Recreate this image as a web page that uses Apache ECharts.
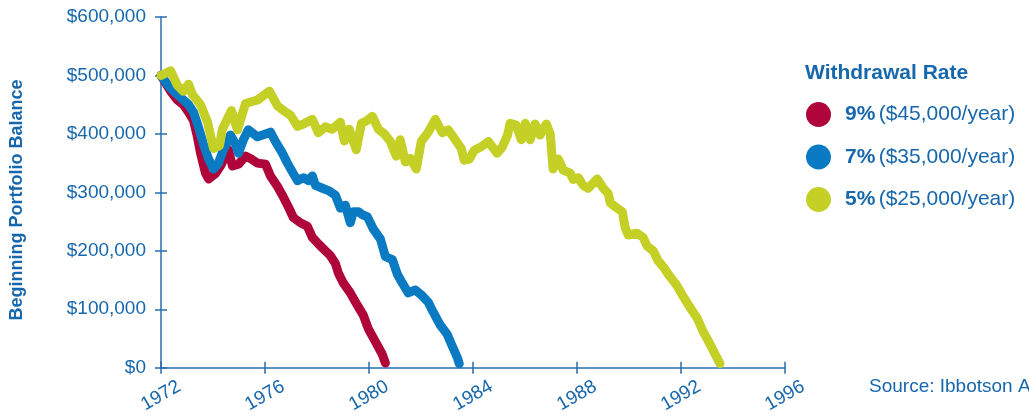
<!DOCTYPE html>
<html>
<head>
<meta charset="utf-8">
<script src="https://cdn.jsdelivr.net/npm/echarts@6/dist/echarts.min.js"></script>
<style>
  html, body { margin: 0; padding: 0; background: #ffffff; }
  #chart { width: 1029px; height: 416px; }
</style>
</head>
<body>
<div id="chart"></div>
<script>
// Withdrawal rates shown in the legend
const rateLabels = ['9%', '7%', '5%'];
const rateAmounts = ['($45,000/year)', '($35,000/year)', '($25,000/year)'];

// Portfolio balance paths: [year, beginning balance in dollars]
const balance9 = [
  [1972.00, 500000], [1972.37, 473000], [1972.63, 458000], [1972.86, 450000], [1973.06, 437000],
  [1973.25, 423000], [1973.40, 395000], [1973.52, 367000], [1973.71, 333000], [1973.83, 323000],
  [1974.09, 332000], [1974.29, 345000], [1974.59, 373000], [1974.75, 345000], [1974.98, 348000],
  [1975.25, 362000], [1975.44, 358000], [1975.71, 350000], [1976.02, 348000], [1976.21, 328000],
  [1976.48, 310000], [1976.67, 295000], [1976.90, 275000], [1977.09, 257000], [1977.36, 248000],
  [1977.63, 242000], [1977.82, 223000], [1978.05, 212000], [1978.32, 200000], [1978.51, 192000],
  [1978.71, 178000], [1978.82, 162000], [1979.01, 145000], [1979.28, 128000], [1979.55, 107000],
  [1979.78, 90000], [1979.97, 67000], [1980.24, 45000], [1980.51, 23000], [1980.63, 8000]
];

const balance7 = [
  [1972.00, 500000], [1972.37, 478000], [1972.63, 467000], [1972.86, 458000], [1973.06, 450000],
  [1973.25, 437000], [1973.44, 412000], [1973.63, 383000], [1973.83, 357000], [1974.02, 340000],
  [1974.21, 350000], [1974.40, 373000], [1974.67, 398000], [1974.86, 383000], [1974.98, 367000],
  [1975.17, 390000], [1975.36, 407000], [1975.71, 395000], [1976.02, 400000], [1976.21, 403000],
  [1976.40, 387000], [1976.67, 367000], [1976.86, 350000], [1977.09, 332000], [1977.25, 320000],
  [1977.48, 325000], [1977.67, 320000], [1977.82, 328000], [1977.94, 312000], [1978.21, 307000],
  [1978.44, 303000], [1978.71, 295000], [1978.90, 273000], [1979.09, 278000], [1979.28, 248000],
  [1979.40, 267000], [1979.59, 267000], [1979.74, 262000], [1979.94, 258000], [1980.17, 237000],
  [1980.44, 220000], [1980.63, 190000], [1980.90, 185000], [1981.09, 160000], [1981.28, 145000],
  [1981.51, 128000], [1981.78, 133000], [1982.05, 123000], [1982.28, 112000], [1982.47, 95000],
  [1982.74, 73000], [1983.01, 57000], [1983.20, 37000], [1983.40, 17000], [1983.47, 7000]
];

const balance5 = [
  [1972.00, 500000], [1972.37, 508000], [1972.63, 483000], [1972.86, 473000], [1973.06, 485000],
  [1973.21, 467000], [1973.52, 450000], [1973.79, 420000], [1974.02, 375000], [1974.25, 380000],
  [1974.36, 408000], [1974.71, 440000], [1974.94, 407000], [1975.25, 452000], [1975.71, 458000],
  [1976.17, 473000], [1976.48, 448000], [1976.71, 440000], [1976.98, 432000], [1977.25, 413000],
  [1977.48, 417000], [1977.82, 425000], [1978.05, 402000], [1978.32, 412000], [1978.59, 408000],
  [1978.90, 420000], [1979.05, 388000], [1979.24, 408000], [1979.51, 373000], [1979.71, 418000],
  [1979.90, 422000], [1980.13, 430000], [1980.36, 408000], [1980.59, 400000], [1980.82, 387000],
  [1981.05, 362000], [1981.20, 390000], [1981.40, 352000], [1981.59, 358000], [1981.82, 340000],
  [1982.01, 387000], [1982.28, 403000], [1982.55, 425000], [1982.82, 402000], [1983.05, 407000],
  [1983.32, 390000], [1983.55, 375000], [1983.66, 355000], [1983.86, 357000], [1984.05, 372000],
  [1984.32, 378000], [1984.59, 387000], [1984.93, 367000], [1985.12, 377000], [1985.32, 397000],
  [1985.43, 418000], [1985.66, 415000], [1985.86, 390000], [1986.01, 418000], [1986.20, 390000],
  [1986.39, 417000], [1986.58, 398000], [1986.82, 417000], [1986.97, 400000], [1987.08, 340000],
  [1987.28, 357000], [1987.47, 338000], [1987.74, 333000], [1987.85, 322000], [1988.05, 325000],
  [1988.24, 312000], [1988.43, 307000], [1988.78, 323000], [1989.01, 307000], [1989.20, 298000],
  [1989.28, 282000], [1989.54, 273000], [1989.74, 267000], [1989.85, 240000], [1989.97, 227000],
  [1990.31, 230000], [1990.54, 223000], [1990.70, 208000], [1990.93, 200000], [1991.12, 183000],
  [1991.31, 173000], [1991.54, 158000], [1991.85, 140000], [1992.08, 122000], [1992.35, 103000],
  [1992.62, 85000], [1992.85, 62000], [1993.12, 40000], [1993.31, 23000], [1993.50, 7000]
];

const textBlue = '#1767ad';
const axisBlue = '#2a6db0';
const lineColors = { '9%': '#b0053b', '7%': '#0a7bc2', '5%': '#c4d026' };
const baseFont = 'Liberation Sans, Arial, sans-serif';

const chart = echarts.init(document.getElementById('chart'), null, { renderer: 'canvas' });

function lineSeries(name, data) {
  return {
    name: name,
    type: 'line',
    data: data,
    xAxisIndex: 0,
    yAxisIndex: 0,
    showSymbol: false,
    symbol: 'none',
    smooth: false,
    lineStyle: { width: 9, color: lineColors[name], cap: 'round', join: 'round' },
    itemStyle: { color: lineColors[name] },
    emphasis: { disabled: true }
  };
}

const tickCommon = { show: true, length: 6, lineStyle: { color: axisBlue, width: 1.5 } };

chart.setOption({
  animation: false,
  backgroundColor: '#ffffff',
  grid: { left: 161, right: 244, top: 17, bottom: 39, containLabel: false },
  xAxis: [
    {
      type: 'value', min: 1972, max: 1996, interval: 4, position: 'bottom',
      axisLine: { show: true, lineStyle: { color: axisBlue, width: 1.5 } },
      axisTick: tickCommon,
      splitLine: { show: false },
      axisLabel: {
        rotate: 30, margin: 28, align: 'center', verticalAlign: 'middle',
        color: textBlue, fontSize: 19, fontFamily: baseFont,
        formatter: v => String(v)
      }
    },
    {
      type: 'value', min: 1972, max: 1996, interval: 4, position: 'bottom',
      axisLine: { show: false },
      axisTick: Object.assign({}, tickCommon, { inside: true }),
      splitLine: { show: false },
      axisLabel: { show: false }
    }
  ],
  yAxis: [
    {
      type: 'value', min: 0, max: 600000, interval: 100000, position: 'left',
      axisLine: { show: true, lineStyle: { color: axisBlue, width: 1.5 } },
      axisTick: tickCommon,
      splitLine: { show: false },
      axisLabel: {
        margin: 15, color: textBlue, fontSize: 19, fontFamily: baseFont,
        formatter: v => '$' + v.toLocaleString('en-US')
      }
    },
    {
      type: 'value', min: 0, max: 600000, interval: 100000, position: 'left',
      axisLine: { show: false },
      axisTick: Object.assign({}, tickCommon, { inside: true }),
      splitLine: { show: false },
      axisLabel: { show: false }
    }
  ],
  legend: {
    orient: 'vertical',
    left: 801,
    top: 97,
    icon: 'circle',
    itemWidth: 25,
    itemHeight: 25,
    itemGap: 17.5,
    selectedMode: false,
    data: rateLabels,
    formatter: name => '{p|' + name + '} {a|' + rateAmounts[rateLabels.indexOf(name)] + '}',
    textStyle: {
      padding: [0, 0, 0, 9],
      rich: {
        p: { fontWeight: 'bold', fontSize: 21, color: textBlue, fontFamily: baseFont },
        a: { fontSize: 21, color: textBlue, fontFamily: baseFont }
      }
    }
  },
  graphic: [
    {
      type: 'text', x: 17, y: 200, rotation: Math.PI / 2,
      style: {
        text: 'Beginning Portfolio Balance', fill: textBlue,
        font: 'bold 18px ' + baseFont, align: 'center', verticalAlign: 'middle'
      }
    },
    {
      type: 'text', x: 805, y: 73,
      style: {
        text: 'Withdrawal Rate', fill: textBlue,
        font: 'bold 21px ' + baseFont, align: 'left', verticalAlign: 'middle'
      }
    },
    {
      type: 'text', x: 869, y: 387,
      style: {
        text: 'Source: Ibbotson Associates', fill: textBlue,
        font: '19px ' + baseFont, align: 'left', verticalAlign: 'middle'
      }
    }
  ],
  series: [
    lineSeries('9%', balance9),
    lineSeries('7%', balance7),
    lineSeries('5%', balance5)
  ]
});
</script>
</body>
</html>
